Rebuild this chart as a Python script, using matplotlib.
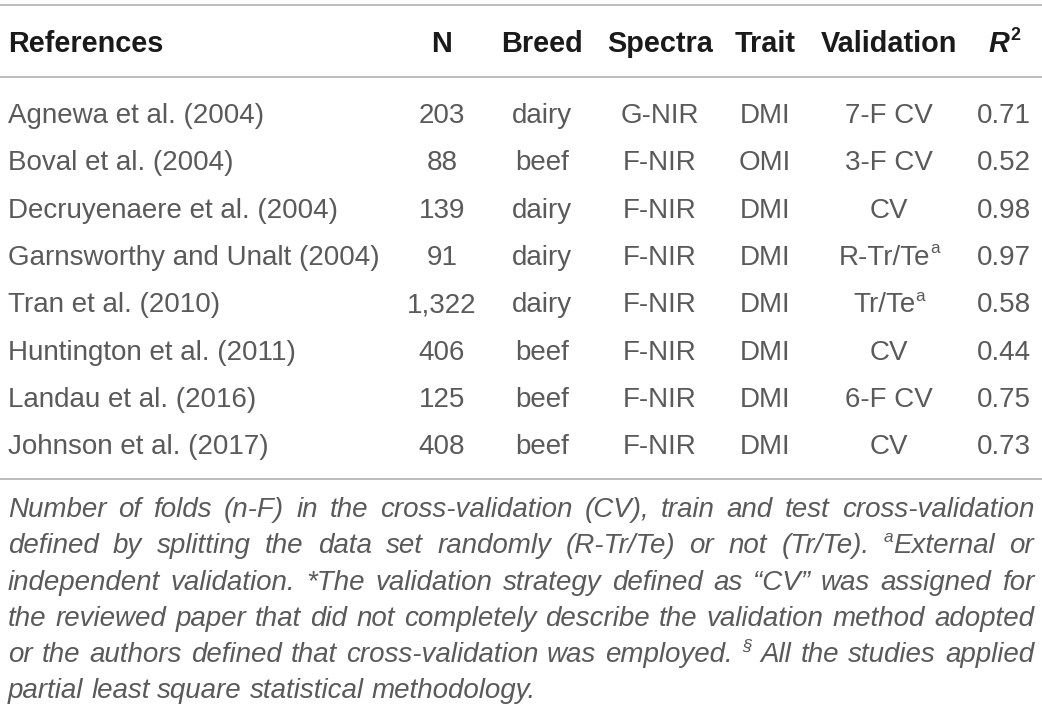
import matplotlib
matplotlib.use("Agg")
import matplotlib.pyplot as plt

# table content
headers = ["References", "N", "Breed", "Spectra", "Trait", "Validation", "R^2"]
references = ["Agnewa et al. (2004)", "Boval et al. (2004)", "Decruyenaere et al. (2004)",
              "Garnsworthy and Unalt (2004)", "Tran et al. (2010)", "Huntington et al. (2011)",
              "Landau et al. (2016)", "Johnson et al. (2017)"]
n_values = ["203", "88", "139", "91", "1,322", "406", "125", "408"]
breeds = ["dairy", "beef", "dairy", "dairy", "dairy", "beef", "beef", "beef"]
spectra = ["G-NIR", "F-NIR", "F-NIR", "F-NIR", "F-NIR", "F-NIR", "F-NIR", "F-NIR"]
traits = ["DMI", "OMI", "DMI", "DMI", "DMI", "DMI", "DMI", "DMI"]
validations = ["7-F CV", "3-F CV", "CV", "R-Tr/Te^a", "Tr/Te^a", "CV", "6-F CV", "CV"]
r2_values = ["0.71", "0.52", "0.98", "0.97", "0.58", "0.44", "0.75", "0.73"]

footnote_lines = [
    "Number of folds (n-F) in the cross-validation (CV), train and test cross-validation",
    "defined by splitting the data set randomly (R-Tr/Te) or not (Tr/Te). ^aExternal or",
    "independent validation. *The validation strategy defined as \u201cCV\u201d was assigned for",
    "the reviewed paper that did not completely describe the validation method adopted",
    "or the authors defined that cross-validation was employed. ^\u00a7 All the studies applied",
    "partial least square statistical methodology.",
]

W, H = 1042, 715
FONT = "Liberation Sans"
BODY = "#5a5a5a"
HEAD = "#1a1a1a"
RULE = "#b0b0b0"

fig = plt.figure(figsize=(W / 100, H / 100), dpi=100)
ax = fig.add_axes([0, 0, 1, 1])
ax.set_xlim(0, W)
ax.set_ylim(H, 0)
ax.axis("off")
renderer = fig.canvas.get_renderer()


def measure(txt, **kw):
    t = ax.text(0, 0, txt, fontfamily=FONT, **kw)
    w = t.get_window_extent(renderer).width
    t.remove()
    return w


def split_runs(txt):
    # "R-Tr/Te^a" -> [("R-Tr/Te", False), ("a", True)]
    runs = []
    parts = txt.split("^")
    if parts[0]:
        runs.append((parts[0], False))
    for p in parts[1:]:
        runs.append((p[0], True))
        if p[1:]:
            runs.append((p[1:], False))
    return runs


def run_widths(runs, size, **kw):
    return [measure(s, fontsize=size * (0.62 if sup else 1), **kw) for s, sup in runs]


def draw_runs(x, y, runs, size, ha="left", **kw):
    widths = run_widths(runs, size, **kw)
    total = sum(widths)
    if ha == "center":
        x = x - total / 2
    elif ha == "right":
        x = x - total
    for (s, sup), w in zip(runs, widths):
        yy = y - size * 100 / 72 * 0.42 if sup else y
        ax.text(x, yy, s, fontfamily=FONT, fontsize=size * (0.62 if sup else 1),
                va="baseline", ha="left", **kw)
        x += w
    return total


# rules
for yl in [5, 77, 479]:
    ax.plot([0, W], [yl, yl], color=RULE, lw=1.2, solid_capstyle="butt")

# header
col_x = [8, 442, 542, 660, 765, 889, 1004]
head_size = 20.8
ax.text(col_x[0], 52, headers[0], fontfamily=FONT, fontsize=head_size, fontweight="bold",
        color=HEAD, va="baseline", ha="left")
for i in range(1, 6):
    ax.text(col_x[i], 52, headers[i], fontfamily=FONT, fontsize=head_size, fontweight="bold",
            color=HEAD, va="baseline", ha="center")
wr = measure("R", fontsize=head_size, fontweight="bold", fontstyle="italic")
w2 = measure("2", fontsize=head_size * 0.62, fontweight="bold")
xr = col_x[6] - (wr + w2) / 2
ax.text(xr, 52, "R", fontfamily=FONT, fontsize=head_size, fontweight="bold",
        fontstyle="italic", color=HEAD, va="baseline")
ax.text(xr + wr + 1, 52 - head_size * 100 / 72 * 0.42, "2", fontfamily=FONT,
        fontsize=head_size * 0.62, fontweight="bold", color=HEAD, va="baseline")

# body rows
body_size = 20
row_y0 = 123
row_step = 47.3
columns = [n_values, breeds, spectra, traits, validations, r2_values]
for r, ref in enumerate(references):
    y = row_y0 + r * row_step
    ax.text(col_x[0], y, ref, fontfamily=FONT, fontsize=body_size, color=BODY,
            va="baseline", ha="left")
    for c, vals in enumerate(columns):
        draw_runs(col_x[c + 1], y, split_runs(vals[r]), body_size, ha="center", color=BODY)

# justified footnote
foot_size = 20
left, right = 8, 1034
foot_y0 = 517
foot_step = 36.3
kw = dict(fontstyle="italic", color=BODY)
space_w = measure("a a", fontsize=foot_size, **kw) - 2 * measure("a", fontsize=foot_size, **kw)
for i, line in enumerate(footnote_lines):
    y = foot_y0 + i * foot_step
    words = [split_runs(w) for w in line.split(" ")]
    widths = [sum(run_widths(w, foot_size, **kw)) for w in words]
    last = i == len(footnote_lines) - 1
    gap = space_w if last else (right - left - sum(widths)) / (len(words) - 1)
    x = left
    for wruns, ww in zip(words, widths):
        draw_runs(x, y, wruns, foot_size, **kw)
        x += ww + gap

fig.savefig("out.png", dpi=100)
